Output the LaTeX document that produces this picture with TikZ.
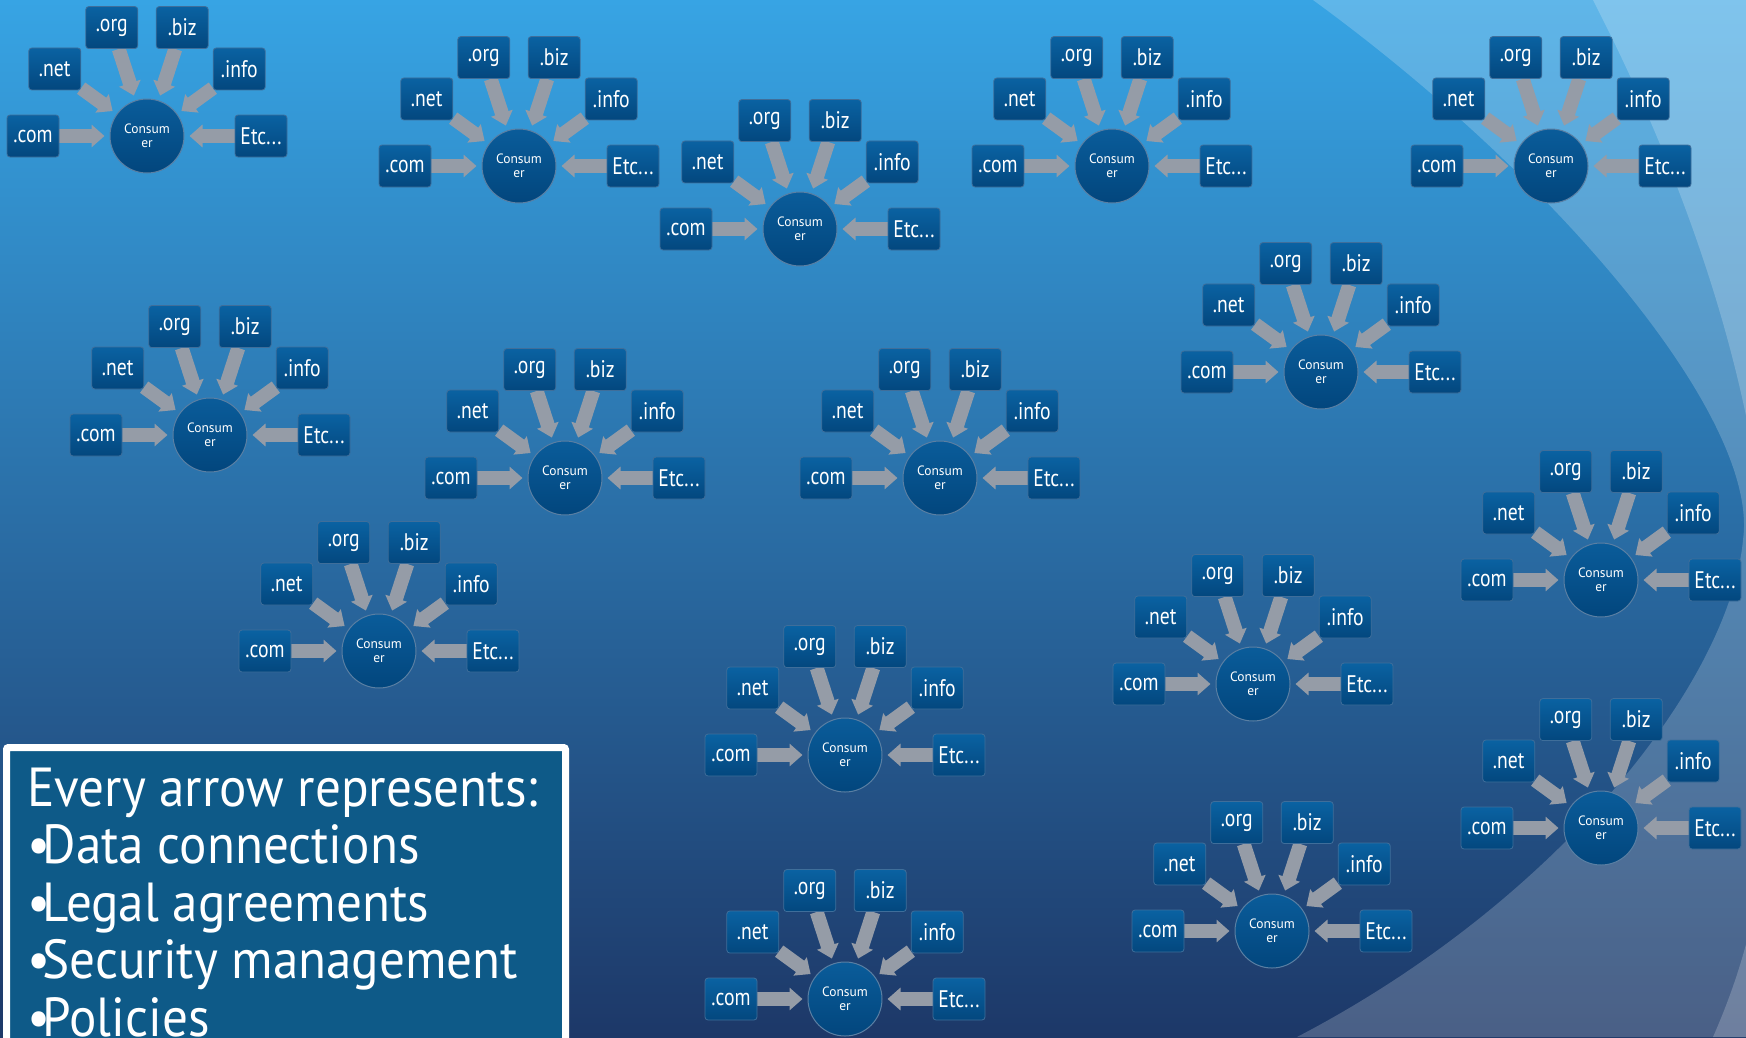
\documentclass[tikz,border=0pt]{standalone}
\usepackage{fontspec}
\setmainfont{PT Sans}
\newfontfamily\tilefont[FakeStretch=0.82]{PT Sans}
\newfontfamily\notefont[FakeStretch=0.93]{PT Sans}
\usepackage{xcolor}
\usetikzlibrary{arrows.meta,positioning,calc,backgrounds}
\pgfdeclarelayer{links}
\pgfsetlayers{background,links,main}
\definecolor{skytop}{HTML}{37A4E4}
\definecolor{skymid}{HTML}{2A70AE}
\definecolor{skybot}{HTML}{1D3868}
\definecolor{tiletop}{HTML}{0A62A2}
\definecolor{tilebot}{HTML}{03477E}
\definecolor{tileedge}{HTML}{3F6E9A}
\definecolor{hubtop}{HTML}{0A5C9A}
\definecolor{hubbot}{HTML}{02467D}
\definecolor{hubedge}{HTML}{5A7FA3}
\definecolor{feedgrey}{HTML}{959CA7}
\definecolor{notefill}{HTML}{0E5A88}
\newcommand{\etclabel}{Etc...}
\newcommand{\notebullet}{•\kern-0.14em}

\begin{document}
\begin{tikzpicture}[
    x=1pt, y=1pt,
    tile/.style={draw=tileedge, line width=0.8pt, top color=tiletop, bottom color=tilebot, rounded corners=3pt, minimum width=52pt, minimum height=42pt, inner sep=0pt, text=white, font={\tilefont\fontsize{24}{26}\selectfont}},
    hub/.style={circle, draw=hubedge, line width=1pt, top color=hubtop, bottom color=hubbot, minimum size=74pt, inner sep=0pt, text=white, align=center, font={\fontsize{13.5}{14}\selectfont}},
    feed/.style={feedgrey, line width=14pt, -{Triangle[width=22pt,length=13pt]}, shorten >=5pt},
    note/.style={draw=white, line width=7pt, fill=notefill, rounded corners=2pt},
    notetext/.style={anchor=base west, inner sep=0pt, align=left, text=white, font={\notefont\fontsize{55}{57.5}\selectfont}}
]
    \useasboundingbox (0,0) rectangle (1746,-1037);
    % sky and the two swooshes on the right
    \begin{scope}[on background layer]
        \clip (0,0) rectangle (1746,-1037);
        \shade[top color=skytop, middle color=skymid, bottom color=skybot] (0,0) rectangle (1746,-1037);
        \fill[white, opacity=0.2] (1313,0) .. controls (1560,-180) and (1760,-420) .. (1743,-540) .. controls (1730,-680) and (1560,-900) .. (1297,-1037) -- (1800,-1037) -- (1800,0) -- cycle;
        \fill[white, opacity=0.2] (1593,0) .. controls (1680,-170) and (1760,-380) .. (1770,-600) .. controls (1780,-820) and (1760,-930) .. (1713,-1037) -- (1800,-1037) -- (1800,0) -- cycle;
    \end{scope}

    % one consumer with its six domains, sixteen times
    \foreach \cx/\cy [count=\i] in {147/136, 519/166, 800/229, 1112/166, 1551/166, 210/435, 565/478, 940/478, 1321/372, 379/651, 1601/580, 1253/684, 845/755, 1601/828, 1272/931, 845/999} {
        \node[hub] (hub\i) at (\cx,-\cy) {Consum\\er};
        \foreach \key/\lab/\ang in {com/.com/180, net/.net/144, org/.org/108, biz/.biz/72, info/.info/36, etc/\etclabel/0} {
            \node[tile] (\i-\key) at ($(hub\i)+(\ang:114)$) {\lab};
            \begin{pgfonlayer}{links}
                \draw[feed] (\i-\key) -- (hub\i);
            \end{pgfonlayer}
        }
    }

    % legend box, cut by the lower edge
    \draw[note] (6.5,-747.5) rectangle (565.5,-1060);
    \node[notetext] (legend) at (27,-1036) {Every arrow represents:\\\notebullet Data connections\\\notebullet Legal agreements\\\notebullet Security management\\\notebullet Policies};
\end{tikzpicture}
\end{document}
